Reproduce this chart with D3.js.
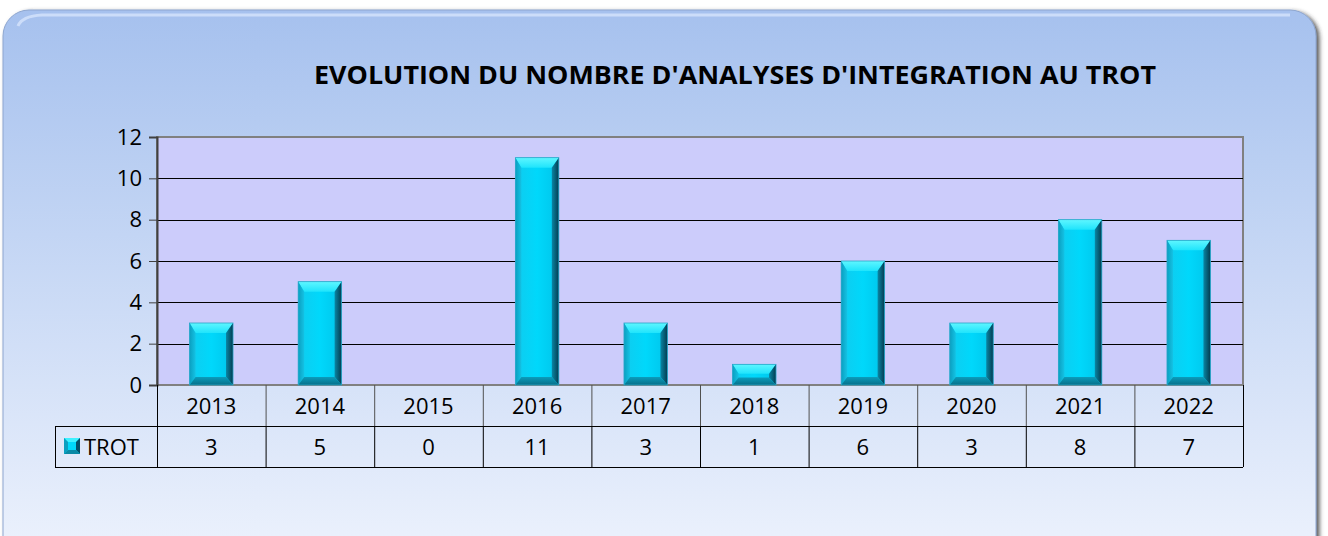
<!DOCTYPE html>
<html>
<head>
<meta charset="utf-8">
<script src="https://cdn.jsdelivr.net/npm/d3@7"></script>
<style>
  body { margin: 0; background: #ffffff; }
  svg { display: block; font-family: "Open Sans", "Noto Sans", sans-serif; }
</style>
</head>
<body>
<div id="container"></div>
<script>
const years = ["2013", "2014", "2015", "2016", "2017", "2018", "2019", "2020", "2021", "2022"];
const trot = [3, 5, 0, 11, 3, 1, 6, 3, 8, 7];
const yTicks = [0, 2, 4, 6, 8, 10, 12];
const seriesName = "TROT";
const title = "EVOLUTION DU NOMBRE D'ANALYSES D'INTEGRATION AU TROT";

const w = 1328;
const h = 536;
const plot = { left: 157, right: 1243, top: 137, bottom: 385 };
const rowH = 41;

const svg = d3.select("#container").append("svg").attr("width", w).attr("height", h);
const defs = svg.append("defs");

const bg = defs.append("linearGradient").attr("id", "bg").attr("x1", 0).attr("y1", 0).attr("x2", 0).attr("y2", 1);
bg.append("stop").attr("offset", "0%").attr("stop-color", "#a6c1ee");
bg.append("stop").attr("offset", "100%").attr("stop-color", "#eef3fd");

const shadow = defs.append("filter").attr("id", "shadow").attr("x", "-5%").attr("y", "-5%").attr("width", "110%").attr("height", "120%");
shadow.append("feDropShadow").attr("dx", 3).attr("dy", 2).attr("stdDeviation", 2).attr("flood-color", "#303030").attr("flood-opacity", 0.8);

// bevel gradients
function grad(id, x2, y2, stops) {
  const g = defs.append("linearGradient").attr("id", id).attr("x1", 0).attr("y1", 0).attr("x2", x2).attr("y2", y2);
  stops.forEach(([o, c]) => g.append("stop").attr("offset", o).attr("stop-color", c));
}
grad("face", 1, 0, [["0%", "#10cbee"], ["50%", "#00d8fb"], ["100%", "#00c4ea"]]);
grad("top", 0, 1, [["0%", "#5ff6ff"], ["100%", "#1fe4fc"]]);
grad("left", 1, 0, [["0%", "#0a9fc0"], ["100%", "#14c2e4"]]);
grad("right", 1, 0, [["0%", "#0a86a4"], ["100%", "#033c50"]]);
grad("bottom", 0, 1, [["0%", "#0b9cbb"], ["100%", "#06708a"]]);

// panel
svg.append("rect")
  .attr("x", 3).attr("y", 10).attr("width", 1313).attr("height", 560)
  .attr("rx", 26).attr("ry", 26)
  .attr("fill", "url(#bg)")
  .attr("stroke", "#8ea6cf").attr("stroke-width", 1)
  .attr("filter", "url(#shadow)");
svg.append("path")
  .attr("d", "M 18 26 Q 22 16 42 15 L 1290 15")
  .attr("fill", "none").attr("stroke", "#d6e4fb").attr("stroke-width", 3).attr("opacity", 0.8);

svg.append("text")
  .attr("x", 735).attr("y", 84)
  .attr("text-anchor", "middle")
  .attr("font-size", 25).attr("font-weight", "bold")
  .attr("fill", "#000")
  .attr("textLength", 842).attr("lengthAdjust", "spacingAndGlyphs")
  .text(title);

const x = d3.scaleBand().domain(years).range([plot.left, plot.right]).paddingInner(0).paddingOuter(0);
const y = d3.scaleLinear().domain([0, 12]).range([plot.bottom, plot.top]);

// plot background
svg.append("rect")
  .attr("x", plot.left).attr("y", plot.top)
  .attr("width", plot.right - plot.left).attr("height", plot.bottom - plot.top)
  .attr("fill", "#ccccfb").attr("stroke", "#808080").attr("stroke-width", 2);

// gridlines
svg.append("g").selectAll("line")
  .data(yTicks.filter(d => d > 0 && d < 12))
  .enter().append("line")
  .attr("x1", plot.left).attr("x2", plot.right)
  .attr("y1", d => Math.round(y(d)) + 0.5).attr("y2", d => Math.round(y(d)) + 0.5)
  .attr("stroke", "#000").attr("stroke-width", 1);

// y axis
const yAxis = svg.append("g")
  .attr("transform", `translate(${plot.left},0)`)
  .call(d3.axisLeft(y).tickValues(yTicks).tickSize(8).tickPadding(7));
yAxis.select(".domain").attr("stroke", "#404040").attr("stroke-width", 2);
yAxis.selectAll(".tick line").attr("stroke", "#404040");
yAxis.selectAll("text").attr("font-size", 22).attr("fill", "#000").attr("font-family", "Open Sans");

// bevel bars
const bw = x.bandwidth() * 0.4;
const bars = svg.append("g").selectAll("g")
  .data(years.map((yr, i) => ({ yr, v: trot[i] })).filter(d => d.v > 0))
  .enter().append("g")
  .attr("transform", d => `translate(${x(d.yr) + (x.bandwidth() - bw) / 2},${y(d.v)})`);

function bar(sel) {
  sel.each(function (d) {
    const g = d3.select(this);
    const bh = y(0) - y(d.v);
    const k = Math.min(1, bh / 22);
    const t = 10 * k, b = 8 * k, l = 6, r = 7;
    g.append("rect").attr("width", bw).attr("height", bh).attr("fill", "url(#face)");
    g.append("polygon").attr("points", `0,0 ${bw},0 ${bw - r},${t} ${l},${t}`).attr("fill", "url(#top)");
    g.append("polygon").attr("points", `0,0 ${l},${t} ${l},${bh - b} 0,${bh}`).attr("fill", "url(#left)");
    g.append("polygon").attr("points", `${bw},0 ${bw},${bh} ${bw - r},${bh - b} ${bw - r},${t}`).attr("fill", "url(#right)");
    g.append("polygon").attr("points", `0,${bh} ${l},${bh - b} ${bw - r},${bh - b} ${bw},${bh}`).attr("fill", "url(#bottom)");
    g.append("rect").attr("width", bw).attr("height", bh).attr("fill", "none").attr("stroke", "#2aa6c8").attr("stroke-width", 0.8);
  });
}
bars.call(bar);

// data table
const table = svg.append("g");
const row1 = plot.bottom, row2 = plot.bottom + rowH, row3 = plot.bottom + 2 * rowH;
table.selectAll("line.v1")
  .data(years.slice(1))
  .enter().append("line")
  .attr("x1", d => x(d) + 0.5).attr("x2", d => x(d) + 0.5)
  .attr("y1", row1).attr("y2", row2)
  .attr("stroke", "#505050");
table.selectAll("line.v2")
  .data(years.slice(1))
  .enter().append("line")
  .attr("x1", d => x(d) + 0.5).attr("x2", d => x(d) + 0.5)
  .attr("y1", row2).attr("y2", row3)
  .attr("stroke", "#000");
table.append("line").attr("x1", plot.left + 0.5).attr("x2", plot.left + 0.5).attr("y1", row1).attr("y2", row3).attr("stroke", "#000");
table.append("line").attr("x1", plot.right + 0.5).attr("x2", plot.right + 0.5).attr("y1", row1).attr("y2", row3).attr("stroke", "#000");
table.append("line").attr("x1", 55).attr("x2", plot.right).attr("y1", row2 + 0.5).attr("y2", row2 + 0.5).attr("stroke", "#000");
table.append("line").attr("x1", 55).attr("x2", plot.right).attr("y1", row3 + 0.5).attr("y2", row3 + 0.5).attr("stroke", "#000");
table.append("line").attr("x1", 55.5).attr("x2", 55.5).attr("y1", row2).attr("y2", row3).attr("stroke", "#000");

table.selectAll("text.yr")
  .data(years)
  .enter().append("text")
  .attr("x", d => x(d) + x.bandwidth() / 2).attr("y", row1 + 29)
  .attr("text-anchor", "middle").attr("font-size", 22)
  .text(d => d);
table.selectAll("text.val")
  .data(years.map((yr, i) => ({ yr, v: trot[i] })))
  .enter().append("text")
  .attr("x", d => x(d.yr) + x.bandwidth() / 2).attr("y", row2 + 29)
  .attr("text-anchor", "middle").attr("font-size", 22)
  .text(d => d.v);

// legend key
const key = table.append("g").attr("transform", `translate(64,${row2 + 12})`);
const ks = 16;
key.append("rect").attr("width", ks).attr("height", ks).attr("fill", "#00d8fb");
key.append("polygon").attr("points", `0,0 ${ks},0 ${ks - 4},4 4,4`).attr("fill", "#3ef0ff");
key.append("polygon").attr("points", `0,0 4,4 4,${ks - 4} 0,${ks}`).attr("fill", "#0a9fc0");
key.append("polygon").attr("points", `${ks},0 ${ks},${ks} ${ks - 4},${ks - 4} ${ks - 4},4`).attr("fill", "#03506a");
key.append("polygon").attr("points", `0,${ks} 4,${ks - 4} ${ks - 4},${ks - 4} ${ks},${ks}`).attr("fill", "#0a8aa6");
table.append("text")
  .attr("x", 84).attr("y", row2 + 29)
  .attr("font-size", 22)
  .text(seriesName);
</script>
</body>
</html>
